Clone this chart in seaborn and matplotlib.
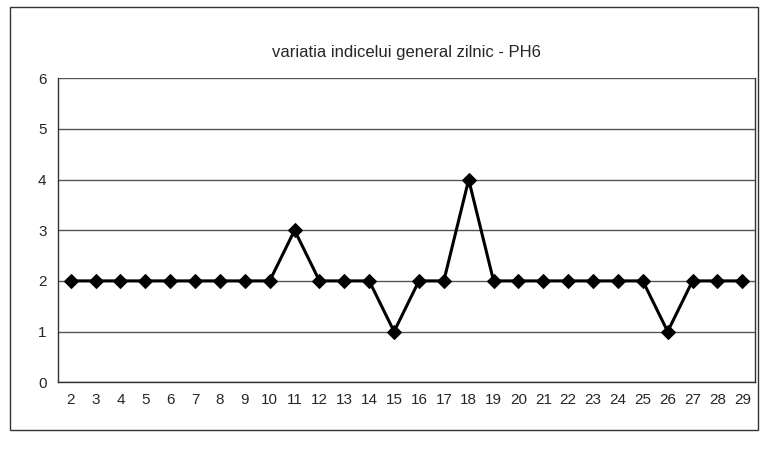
import matplotlib
matplotlib.use('Agg')
import matplotlib.pyplot as plt
import seaborn as sns
import pandas as pd
import numpy as np
from matplotlib.patches import Rectangle

# date
zile = list(range(2, 30))
valori = [2, 2, 2, 2, 2, 2, 2, 2, 2, 3, 2, 2, 2, 1, 2, 2, 4, 2, 2, 2, 2, 2, 2, 2, 1, 2, 2, 2]
titlu = 'variatia indicelui general zilnic - PH6'

df = pd.DataFrame({'poz': np.arange(len(zile)), 'zi': zile, 'val': valori})

sns.set_style('white')
plt.rcParams['font.family'] = ['Liberation Sans', 'DejaVu Sans']

fig = plt.figure(figsize=(7.67, 4.55), dpi=100)
ax = fig.add_axes([0.076, 0.16, 0.908, 0.668])

sns.lineplot(data=df, x='poz', y='val', color='black', linewidth=2.2,
             marker='D', markersize=7, markeredgecolor='black', ax=ax)

ax.set_xlim(-0.5, len(zile) - 0.5)
ax.set_ylim(0, 6)
ax.set_yticks(range(0, 7))
ax.yaxis.grid(True, color='#555555', linewidth=1)
ax.set_axisbelow(True)

# axa de categorii: liniute intre categorii, etichete la mijloc
ax.set_xticks(np.arange(-0.5, len(zile), 1), minor=False)
ax.set_xticklabels([])
ax.set_xticks(df['poz'], minor=True)
ax.set_xticklabels([str(z) for z in zile], minor=True, fontsize=11)
ax.tick_params(axis='x', which='major', direction='out', length=5, color='#333333')
ax.tick_params(axis='x', which='minor', length=0, pad=8)
ax.tick_params(axis='y', direction='out', length=5, color='#333333', labelsize=11)

for s in ['left', 'bottom', 'right']:
    ax.spines[s].set_color('#333333')
    ax.spines[s].set_linewidth(1)
ax.spines['top'].set_visible(False)

ax.set_xlabel('')
ax.set_ylabel('')
fig.text(0.53, 0.885, titlu, ha='center', va='center', fontsize=12)

# chenarul graficului
fig.patches.append(Rectangle((0.013, 0.055), 0.975, 0.93, transform=fig.transFigure,
                             fill=False, edgecolor='#333333', linewidth=1))

plt.savefig('out.png', dpi=100)
